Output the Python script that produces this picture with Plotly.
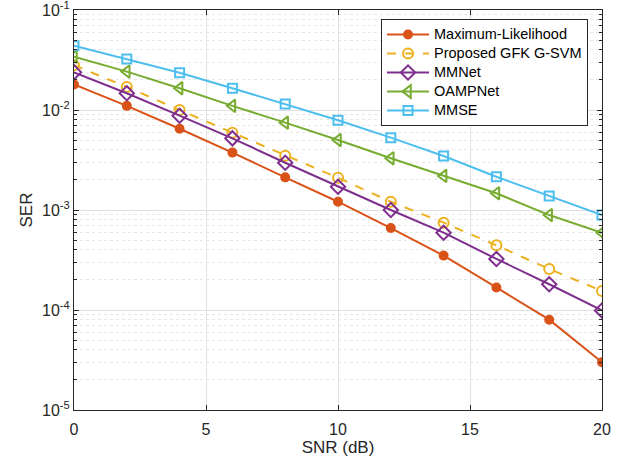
import plotly.graph_objects as go

snr = [0, 2, 4, 6, 8, 10, 12, 14, 16, 18, 20]
ml = [0.0180, 0.0110, 0.0065, 0.00375, 0.00212, 0.00121, 0.00066, 0.00035, 0.000168, 0.000080, 0.0000300]
gsvm = [0.0280, 0.0170, 0.0100, 0.00593, 0.00348, 0.00210, 0.00121, 0.000747, 0.000443, 0.000257, 0.000155]
mmnet = [0.0238, 0.0147, 0.00877, 0.00521, 0.00297, 0.00171, 0.00100, 0.000593, 0.000324, 0.000181, 0.0000990]
oamp = [0.0341, 0.0242, 0.0165, 0.0110, 0.00747, 0.00501, 0.00329, 0.00219, 0.00147, 0.00089, 0.000593]
mmse = [0.0440, 0.0324, 0.0236, 0.0165, 0.0115, 0.00790, 0.00529, 0.00347, 0.00215, 0.00138, 0.00089]

names = ["Maximum-Likelihood", "Proposed GFK G-SVM", "MMNet", "OAMPNet", "MMSE"]
xtickvals = [0, 5, 10, 15, 20]
ytickvals = [1e-5, 1e-4, 1e-3, 1e-2, 1e-1]
yticktext = ["10<sup>-5</sup>", "10<sup>-4</sup>", "10<sup>-3</sup>", "10<sup>-2</sup>", "10<sup>-1</sup>"]

series = [
    (ml, "#D95319", "circle", 8, "solid"),
    (gsvm, "#EDB120", "circle-open", 10, "dash"),
    (mmnet, "#7E2F8E", "diamond-open", 11, "solid"),
    (oamp, "#77AC30", "triangle-left-open", 11, "solid"),
    (mmse, "#4DBEEE", "square-open", 9, "solid"),
]

FONT = "Liberation Sans, Arial"

fig = go.Figure()
for (vals, color, sym, size, dash), name in zip(series, names):
    fig.add_trace(go.Scatter(
        x=snr, y=vals, mode="lines+markers",
        name='<span style="font-size:14.5px">' + name + '</span>',
        line=dict(color=color, width=2, dash=dash),
        marker=dict(symbol=sym, size=size, color=color,
                    line=dict(color=color, width=2)),
    ))

axis_common = dict(
    showline=True, linecolor="#262626", linewidth=1, mirror="allticks",
    ticks="inside", ticklen=5, tickcolor="#262626",
    showgrid=True, gridcolor="#e0e0e0", gridwidth=1,
    zeroline=False, ticklabeloverflow="allow",
    tickfont=dict(family=FONT, size=16, color="#262626"),
)

fig.update_xaxes(
    range=[0, 20], tickvals=xtickvals, automargin="bottom", ticklabelstandoff=5,
    title=dict(text="SNR (dB)", font=dict(family=FONT, size=17, color="#262626"), standoff=2),
    **axis_common,
)
fig.update_yaxes(
    type="log", range=[-5, -1], tickvals=ytickvals, ticktext=yticktext, automargin="left",
    title=dict(text="SER", font=dict(family=FONT, size=17, color="#262626"), standoff=5),
    minor=dict(showgrid=True, gridcolor="#e6e6e6", griddash="dot", ticks="inside", ticklen=3,
               tickcolor="#262626", dtick="D1"),
    **axis_common,
)

fig.update_layout(
    width=627, height=463,
    margin=dict(l=74, r=25, t=10, b=53),
    paper_bgcolor="white", plot_bgcolor="white",
    font=dict(family=FONT, color="#262626"),
    legend=dict(
        x=0.9735, y=0.9775, xanchor="right", yanchor="top",
        bgcolor="white", bordercolor="#262626", borderwidth=1,
        font=dict(family=FONT, size=12, color="#000000"),
        tracegroupgap=0, itemwidth=42,
    ),
)

fig.write_html("out.html", config={"displayModeBar": False},
               post_script="document.body.style.margin='0';")
